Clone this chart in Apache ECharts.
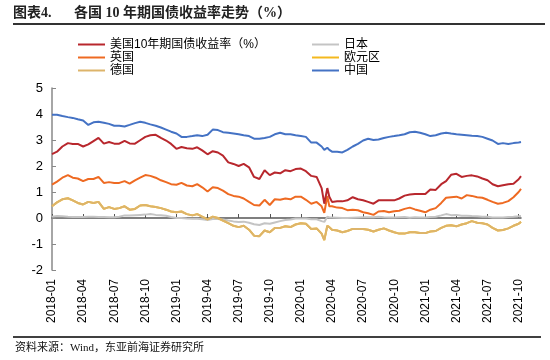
<!DOCTYPE html>
<html><head><meta charset="utf-8">
<script src="https://cdn.jsdelivr.net/npm/echarts@6/dist/echarts.min.js"></script>
<style>html,body{margin:0;padding:0;background:#fff}#c{width:550px;height:360px}</style>
</head><body><div id="c"></div>
<script>
const dates = [
 '2018-01-01','2018-01-16','2018-02-01','2018-02-16','2018-03-01','2018-03-16','2018-04-01','2018-04-16','2018-05-01','2018-05-16','2018-06-01','2018-06-16',
 '2018-07-01','2018-07-16','2018-08-01','2018-08-16','2018-09-01','2018-09-16','2018-10-01','2018-10-16','2018-11-01','2018-11-16','2018-12-01','2018-12-16',
 '2019-01-01','2019-01-16','2019-02-01','2019-02-16','2019-03-01','2019-03-16','2019-04-01','2019-04-16','2019-05-01','2019-05-16','2019-06-01','2019-06-16',
 '2019-07-01','2019-07-16','2019-08-01','2019-08-16','2019-09-01','2019-09-16','2019-10-01','2019-10-16','2019-11-01','2019-11-16','2019-12-01','2019-12-16',
 '2020-01-01','2020-01-16','2020-02-01','2020-02-16','2020-03-01','2020-03-09','2020-03-18','2020-03-24','2020-04-01','2020-04-16','2020-05-01','2020-05-16',
 '2020-06-01','2020-06-16','2020-07-01','2020-07-16','2020-08-01','2020-08-16','2020-09-01','2020-09-16','2020-10-01','2020-10-16','2020-11-01','2020-11-16',
 '2020-12-01','2020-12-16',
 '2021-01-01','2021-01-16','2021-02-01','2021-02-16','2021-03-01','2021-03-16','2021-04-01','2021-04-16','2021-05-01','2021-05-16','2021-06-01','2021-06-16',
 '2021-07-01','2021-07-16','2021-08-01','2021-08-16','2021-09-01','2021-09-16','2021-10-01','2021-10-08'
];
const tickLabels = ['2018-01','2018-04','2018-07','2018-10','2019-01','2019-04','2019-07','2019-10','2020-01','2020-04','2020-07','2020-10','2021-01','2021-04','2021-07','2021-10'];
const yTicks = [-2,-1,0,1,2,3,4,5];

const us = [
 2.46,2.55,2.75,2.88,2.85,2.85,2.75,2.83,2.96,3.08,2.86,2.92,2.86,2.86,2.97,2.87,2.86,2.99,3.12,3.18,3.20,3.08,2.98,2.85,
 2.66,2.73,2.68,2.66,2.72,2.60,2.45,2.57,2.52,2.40,2.14,2.08,2.00,2.08,1.95,1.58,1.50,1.84,1.65,1.75,1.72,1.84,1.80,1.88,
 1.90,1.80,1.62,1.58,1.15,0.55,1.15,0.82,0.62,0.64,0.64,0.68,0.80,0.72,0.68,0.62,0.55,0.68,0.68,0.68,0.68,0.75,0.86,0.90,0.92,0.92,
 0.92,1.10,1.08,1.30,1.42,1.66,1.70,1.58,1.62,1.64,1.60,1.52,1.45,1.30,1.22,1.26,1.30,1.32,1.49,1.61
];
const uk = [
 1.28,1.40,1.55,1.65,1.55,1.52,1.42,1.50,1.50,1.58,1.35,1.38,1.35,1.35,1.42,1.32,1.45,1.55,1.65,1.62,1.55,1.45,1.38,1.30,
 1.28,1.35,1.25,1.22,1.30,1.18,1.02,1.18,1.15,1.05,0.92,0.85,0.82,0.75,0.62,0.50,0.48,0.70,0.50,0.72,0.70,0.75,0.72,0.82,
 0.82,0.70,0.55,0.62,0.45,0.20,0.85,0.45,0.45,0.40,0.38,0.30,0.32,0.30,0.22,0.18,0.12,0.25,0.27,0.22,0.26,0.28,0.35,0.40,0.33,0.28,
 0.22,0.32,0.38,0.58,0.78,0.80,0.82,0.75,0.88,0.85,0.80,0.78,0.70,0.62,0.55,0.58,0.65,0.80,1.00,1.12
];
const germany = [
 0.45,0.60,0.72,0.76,0.68,0.58,0.52,0.62,0.58,0.62,0.35,0.42,0.35,0.38,0.45,0.32,0.35,0.48,0.50,0.45,0.42,0.38,0.32,0.25,
 0.22,0.25,0.15,0.10,0.15,0.05,-0.05,0.05,0.00,-0.10,-0.20,-0.30,-0.35,-0.30,-0.45,-0.68,-0.70,-0.48,-0.55,-0.38,-0.38,-0.32,-0.35,-0.25,
 -0.20,-0.22,-0.42,-0.40,-0.60,-0.85,-0.30,-0.35,-0.45,-0.48,-0.55,-0.50,-0.42,-0.42,-0.42,-0.45,-0.52,-0.45,-0.40,-0.48,-0.55,-0.60,-0.60,-0.55,-0.55,-0.58,
 -0.58,-0.52,-0.50,-0.38,-0.30,-0.28,-0.32,-0.25,-0.20,-0.12,-0.18,-0.20,-0.25,-0.38,-0.48,-0.46,-0.40,-0.30,-0.22,-0.15
];
const euroArea = [
 0.45,0.60,0.72,0.76,0.68,0.58,0.52,0.62,0.58,0.62,0.35,0.42,0.35,0.38,0.45,0.32,0.35,0.48,0.50,0.45,0.42,0.38,0.32,0.25,
 0.22,0.25,0.15,0.10,0.15,0.05,-0.05,0.05,0.00,-0.10,-0.20,-0.30,-0.35,-0.30,-0.45,-0.68,-0.70,-0.48,-0.55,-0.38,-0.38,-0.32,-0.35,-0.25,
 -0.20,-0.22,-0.42,-0.40,-0.60,-0.85,-0.30,-0.35,-0.45,-0.48,-0.55,-0.50,-0.42,-0.42,-0.42,-0.45,-0.52,-0.45,-0.40,-0.48,-0.55,-0.60,-0.60,-0.55,-0.55,-0.58,
 -0.58,-0.52,-0.50,-0.38,-0.30,-0.28,-0.32,-0.25,-0.20,-0.12,-0.18,-0.20,-0.25,-0.38,-0.48,-0.46,-0.40,-0.30,-0.22,-0.15
];
const japan = [
 0.05,0.08,0.07,0.05,0.04,0.04,0.04,0.05,0.05,0.04,0.04,0.03,0.03,0.05,0.10,0.10,0.11,0.12,0.13,0.15,0.12,0.11,0.09,0.04,
 0.00,0.00,-0.02,-0.03,-0.03,-0.05,-0.08,-0.04,-0.04,-0.06,-0.10,-0.13,-0.15,-0.14,-0.18,-0.24,-0.27,-0.20,-0.22,-0.17,-0.12,-0.08,-0.06,-0.02,
 -0.02,-0.02,-0.05,-0.05,-0.12,-0.15,0.05,0.02,0.02,0.01,0.00,0.00,0.01,0.02,0.03,0.03,0.03,0.05,0.03,0.02,0.02,0.03,0.04,0.01,0.03,0.02,
 0.02,0.04,0.05,0.10,0.15,0.11,0.12,0.09,0.09,0.08,0.07,0.05,0.05,0.02,0.02,0.02,0.04,0.05,0.07,0.08
];
const china = [
 3.97,3.97,3.92,3.88,3.85,3.80,3.75,3.58,3.68,3.70,3.66,3.62,3.55,3.55,3.52,3.58,3.65,3.70,3.66,3.60,3.55,3.48,3.40,3.32,
 3.25,3.12,3.12,3.15,3.18,3.15,3.20,3.40,3.38,3.30,3.28,3.25,3.22,3.18,3.15,3.05,3.05,3.08,3.12,3.22,3.28,3.22,3.22,3.18,
 3.15,3.12,2.90,2.90,2.75,2.62,2.70,2.62,2.55,2.55,2.52,2.62,2.75,2.85,2.98,3.05,3.00,3.02,3.08,3.12,3.15,3.18,3.22,3.30,3.32,3.28,
 3.22,3.15,3.18,3.25,3.28,3.25,3.22,3.20,3.18,3.16,3.15,3.12,3.05,2.98,2.85,2.88,2.85,2.88,2.90,2.92
];

// month index since 2018-01 from a date string
function toMonth(s){const p=s.split('-').map(Number);const dim=new Date(p[0],p[1],0).getDate();return (p[0]-2018)*12+(p[1]-1)+(p[2]-1)/dim;}
const xs = dates.map(toMonth);
const xMax = xs[xs.length-1];
const tickVals = tickLabels.map((_,i)=>i*3);
const pair = arr => arr.map((v,i)=>[xs[i], v]);

const names = {us:'美国10年期国债收益率（%）', jp:'日本', uk:'英国', eu:'欧元区', de:'德国', cn:'中国'};
const colors = {us:'#B8272D', jp:'#C4C4C4', uk:'#EE6A22', eu:'#F4B91E', de:'#DDB46A', cn:'#4472C4'};
const sans = "'Liberation Sans','Noto Sans CJK SC',sans-serif";
const serif = "'Liberation Serif','Noto Sans CJK SC',serif";

function line(key, arr){
  return {name:names[key], type:'line', data:pair(arr), showSymbol:false, symbol:'none',
    lineStyle:{width:2, color:colors[key]}, itemStyle:{color:colors[key]}, animation:false, xAxisIndex:0};
}
const legendBase = {orient:'vertical', top:38, padding:0, itemWidth:27, itemHeight:2, itemGap:0, icon:'rect',
  textStyle:{fontSize:12, lineHeight:13, fontFamily:sans, color:'#000'}};

const chart = echarts.init(document.getElementById('c'), null, {renderer:'canvas'});
chart.setOption({
  animation:false,
  backgroundColor:'#fff',
  grid:{left:52, right:29, top:88, bottom:90},
  legend:[
    Object.assign({left:78, data:[names.us, names.uk, names.de]}, legendBase),
    Object.assign({left:312, data:[names.jp, names.eu, names.cn]}, legendBase)
  ],
  xAxis:[
    {type:'value', min:0, max:xMax, position:'bottom', axisLine:{show:false, onZero:false}, axisTick:{show:false}, splitLine:{show:false},
     axisLabel:{customValues:tickVals, rotate:90, margin:9, fontSize:12, fontFamily:sans, color:'#000',
       formatter:v=>{const i=Math.round(v/3);return Math.abs(v-i*3)<1e-6?(tickLabels[i]||''):'';}}},
    {type:'value', min:0, max:xMax, position:'top', axisLine:{show:true, onZero:true, lineStyle:{color:'#555', width:1.5}},
     axisTick:{show:true, customValues:tickVals, length:4, lineStyle:{color:'#555'}}, axisLabel:{show:false}, splitLine:{show:false}}
  ],
  yAxis:{type:'value', min:-2, max:5, interval:1, axisLine:{show:true, lineStyle:{color:'#888', width:1.5}},
    axisTick:{show:true, inside:true, length:4, lineStyle:{color:'#888'}}, splitLine:{show:false},
    axisLabel:{margin:9, fontSize:13, fontFamily:sans, color:'#000', formatter:v=>yTicks.includes(v)?String(v):''}},
  series:[line('jp',japan), line('eu',euroArea), line('de',germany), line('uk',uk), line('us',us), line('cn',china)],
  graphic:[
    {type:'text', left:13, top:6, style:{text:'图表4.', font:'bold 14px '+serif, fill:'#222'}},
    {type:'text', left:74, top:6, style:{text:'各国 10 年期国债收益率走势（%）', font:'bold 14px '+serif, fill:'#222'}},
    {type:'rect', shape:{x:13, y:23, width:532, height:2}, style:{fill:'#333'}},
    {type:'rect', shape:{x:13, y:336, width:528, height:2}, style:{fill:'#404040'}},
    {type:'text', left:15, top:343, style:{text:'资料来源：Wind，东亚前海证券研究所', font:'11px '+serif, fill:'#111'}}
  ]
});
</script></body></html>
